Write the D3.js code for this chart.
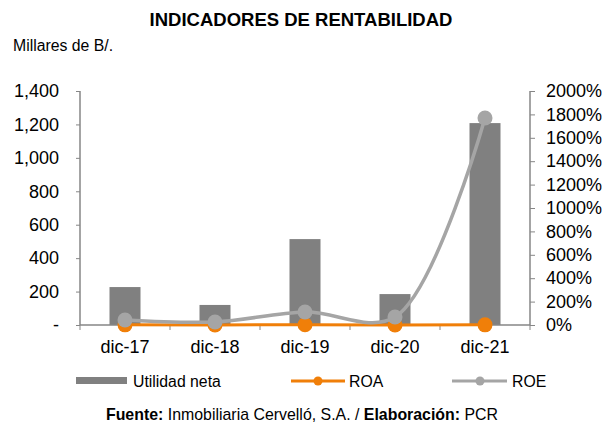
<!DOCTYPE html>
<html>
<head>
<meta charset="utf-8">
<script src="https://cdn.jsdelivr.net/npm/d3@7"></script>
<style>
  body { margin: 0; background: #fff; overflow: hidden; }
  text { font-family: "Liberation Sans", Arial, sans-serif; fill: #000; }
</style>
</head>
<body>
<div id="chart"></div>
<script>
// data
var categories = ["dic-17", "dic-18", "dic-19", "dic-20", "dic-21"];
var utilidad = [227, 120, 514, 185, 1208];
var roa = [1.5, 0.8, 1.9, 0.6, 1.2];  // percent
var roe = [43, 26, 111, 68, 1769];    // percent
var leftTicks = [0, 200, 400, 600, 800, 1000, 1200, 1400];
var rightTicks = [0, 200, 400, 600, 800, 1000, 1200, 1400, 1600, 1800, 2000];

var w = 602, h = 426;
var plotL = 80, plotR = 530, plotT = 91, plotB = 325;

var svg = d3.select("#chart").append("svg")
    .attr("width", w)
    .attr("height", h);

// title + unit
svg.append("text")
    .attr("x", 301).attr("y", 26)
    .attr("text-anchor", "middle")
    .style("font-size", "18.5px").style("font-weight", "bold")
    .text("INDICADORES DE RENTABILIDAD");
svg.append("text")
    .attr("x", 13).attr("y", 51)
    .style("font-size", "15.8px")
    .text("Millares de B/.");

// scales
var x = d3.scaleBand().domain(categories).range([plotL, plotR]);
var y = d3.scaleLinear().domain([0, 1400]).range([plotB, plotT]);
var y2 = d3.scaleLinear().domain([0, 2000]).range([plotB, plotT]);

// bars
svg.append("g").selectAll("rect")
    .data(utilidad)
    .enter().append("rect")
    .attr("x", function (d, i) { return x(categories[i]) + x.bandwidth() / 2 - 15.5; })
    .attr("width", 31)
    .attr("y", function (d) { return y(d); })
    .attr("height", function (d) { return plotB - y(d); })
    .attr("fill", "#808080");

// axes
var axisColor = "#868686";
var gl = svg.append("g").attr("transform", "translate(" + plotL + ",0)")
    .call(d3.axisLeft(y).tickValues(leftTicks).tickSize(4).tickPadding(17)
        .tickFormat(function (d) { return d === 0 ? "-" : d3.format(",")(d); }));
var gr = svg.append("g").attr("transform", "translate(" + plotR + ",0)")
    .call(d3.axisRight(y2).tickValues(rightTicks).tickSize(5).tickPadding(11)
        .tickFormat(function (d) { return d + "%"; }));
var gx = svg.append("g").attr("transform", "translate(0," + plotB + ")")
    .call(d3.axisBottom(x).tickSize(0).tickPadding(15));

// category boundary ticks on x axis
gx.selectAll(".bound")
    .data(d3.range(categories.length + 1))
    .enter().append("line")
    .attr("class", "bound")
    .attr("x1", function (i) { return plotL + i * x.step(); })
    .attr("x2", function (i) { return plotL + i * x.step(); })
    .attr("y1", 0).attr("y2", 5)
    .attr("stroke", axisColor);

[gl, gr, gx].forEach(function (g) {
    g.select(".domain").attr("stroke", axisColor).attr("stroke-width", 1.5);
    g.selectAll(".tick line").attr("stroke", axisColor);
    g.selectAll("text").style("font-size", "18px").attr("fill", "#000")
        .style("font-family", "'Liberation Sans', Arial, sans-serif");
});
gl.select(".domain").attr("d", "M0," + plotT + "V" + plotB);
gr.select(".domain").attr("d", "M0," + plotT + "V" + plotB);
gx.select(".domain").attr("d", "M" + plotL + ",0H" + plotR);

// lines
function cx(i) { return x(categories[i]) + x.bandwidth() / 2; }

var lineRoa = d3.line()
    .x(function (d, i) { return cx(i); })
    .y(function (d) { return y2(d); });
var lineRoe = d3.line()
    .curve(d3.curveCatmullRom.alpha(0.5))
    .x(function (d, i) { return cx(i); })
    .y(function (d) { return y2(d); });

svg.append("path").datum(roa)
    .attr("d", lineRoa)
    .attr("fill", "none").attr("stroke", "#f07f09").attr("stroke-width", 3);
svg.append("g").selectAll("circle").data(roa)
    .enter().append("circle")
    .attr("cx", function (d, i) { return cx(i); })
    .attr("cy", function (d) { return y2(d); })
    .attr("r", 7.5).attr("fill", "#f07f09");

svg.append("path").datum(roe)
    .attr("d", lineRoe)
    .attr("fill", "none").attr("stroke", "#a5a5a5").attr("stroke-width", 3.5);
svg.append("g").selectAll("circle").data(roe)
    .enter().append("circle")
    .attr("cx", function (d, i) { return cx(i); })
    .attr("cy", function (d) { return y2(d); })
    .attr("r", 7.5).attr("fill", "#a5a5a5");

// legend
var lg = svg.append("g");
lg.append("rect").attr("x", 76).attr("y", 377).attr("width", 51).attr("height", 7).attr("fill", "#808080");
lg.append("text").attr("x", 133).attr("y", 387).style("font-size", "15.8px").text("Utilidad neta");

lg.append("line").attr("x1", 291).attr("x2", 345).attr("y1", 381).attr("y2", 381)
    .attr("stroke", "#f07f09").attr("stroke-width", 3);
lg.append("circle").attr("cx", 318).attr("cy", 381).attr("r", 4.5).attr("fill", "#f07f09");
lg.append("text").attr("x", 349).attr("y", 387).style("font-size", "15.8px").text("ROA");

lg.append("line").attr("x1", 452).attr("x2", 507).attr("y1", 381).attr("y2", 381)
    .attr("stroke", "#a5a5a5").attr("stroke-width", 3);
lg.append("circle").attr("cx", 480).attr("cy", 381).attr("r", 4.5).attr("fill", "#a5a5a5");
lg.append("text").attr("x", 512).attr("y", 387).style("font-size", "15.8px").text("ROE");

// footer
var ft = svg.append("text")
    .attr("x", 302).attr("y", 420)
    .attr("text-anchor", "middle")
    .style("font-size", "15.9px");
ft.append("tspan").style("font-weight", "bold").text("Fuente:");
ft.append("tspan").text(" Inmobiliaria Cervelló, S.A. / ");
ft.append("tspan").style("font-weight", "bold").text("Elaboración:");
ft.append("tspan").text(" PCR");
</script>
</body>
</html>
